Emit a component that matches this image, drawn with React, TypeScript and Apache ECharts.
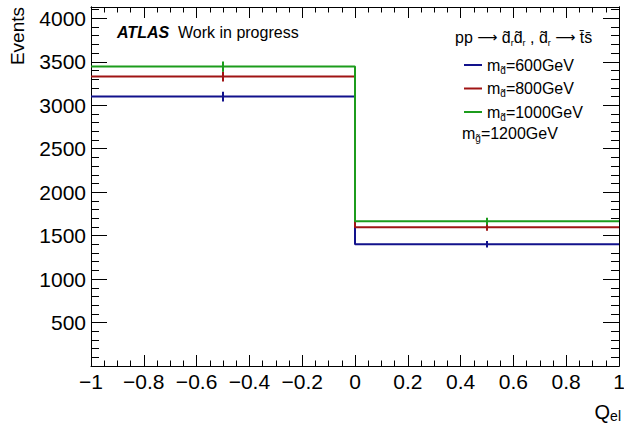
import React, { useEffect, useRef } from "react";
import * as echarts from "echarts";

// ---- data ----
const binEdges = [-1, 0, 1];
const massLabels = ["600", "800", "1000"];
const blueCounts = [3100, 1400];
const redCounts = [3330, 1595];
const greenCounts = [3445, 1665];
const blueErrors = [56, 37];
const redErrors = [58, 40];
const greenErrors = [59, 41];
const seriesColors = ["#12128c", "#a01414", "#1c9c1c"];
const yMin = 0;
const yMax = 4130;
const xMin = -1;
const xMax = 1;

const FONT = "Liberation Sans";

function stepPoints(counts: number[]) {
  return binEdges.map((e, i) => [e, counts[Math.min(i, counts.length - 1)]]);
}
function errPoints(counts: number[], errs: number[]) {
  return counts.map((c, i) => [(binEdges[i] + binEdges[i + 1]) / 2, c, errs[i]]);
}

export default function App() {
  const ref = useRef<HTMLDivElement>(null);
  useEffect(() => {
    if (!ref.current) return;
    const chart = echarts.init(ref.current, undefined, { renderer: "svg" });
    const allCounts = [blueCounts, redCounts, greenCounts];
    const allErrs = [blueErrors, redErrors, greenErrors];

    const lineSeries = massLabels.map((m, k) => ({
      name: m,
      type: "line",
      step: "end",
      data: stepPoints(allCounts[k]),
      symbol: "none",
      lineStyle: { color: seriesColors[k], width: 2 },
      itemStyle: { color: seriesColors[k] },
      xAxisIndex: 0,
      yAxisIndex: 0,
      z: 2 + k,
    }));
    const errSeries = massLabels.map((m, k) => ({
      name: m + " err",
      type: "custom",
      xAxisIndex: 0,
      yAxisIndex: 0,
      z: 2 + k,
      data: errPoints(allCounts[k], allErrs[k]),
      renderItem: (params: any, api: any) => {
        const x = api.value(0);
        const y = api.value(1);
        const e = api.value(2);
        const p1 = api.coord([x, y - e]);
        const p2 = api.coord([x, y + e]);
        return {
          type: "line",
          shape: { x1: p1[0], y1: p1[1], x2: p2[0], y2: p2[1] },
          style: { stroke: seriesColors[k], lineWidth: 2 },
        };
      },
    }));

    const axisLine = { show: true, onZero: false, lineStyle: { color: "#000", width: 1 } };
    const xFmt = (v: number) => {
      const r = Math.round(v * 10) / 10;
      return String(r).replace("-", "\u2212");
    };
    const xBase = (pos: string, labels: boolean) => ({
      type: "value",
      position: pos,
      min: xMin,
      max: xMax,
      interval: 0.2,
      axisLine,
      axisTick: { show: true, inside: true, length: 11, lineStyle: { color: "#000" } },
      minorTick: { show: true, splitNumber: 4, length: 5.5, lineStyle: { color: "#000" } },
      splitLine: { show: false },
      minorSplitLine: { show: false },
      axisLabel: {
        show: labels,
        formatter: xFmt,
        fontFamily: FONT,
        fontSize: 21,
        color: "#000",
        margin: 5,
      },
    });
    const yBase = (pos: string, interval: number, tickLen: number, labels: boolean) => ({
      type: "value",
      position: pos,
      min: yMin,
      max: yMax,
      interval,
      axisLine,
      axisTick: { show: true, inside: true, length: tickLen, lineStyle: { color: "#000" } },
      splitLine: { show: false },
      axisLabel: {
        show: labels,
        formatter: (v: number) => (v === 0 || v % 500 !== 0 ? "" : String(v)),
        fontFamily: FONT,
        fontSize: 21,
        color: "#000",
        margin: 5,
      },
    });

    chart.setOption({
      animation: false,
      backgroundColor: "#fff",
      grid: {
        left: 91,
        right: 5,
        top: 7,
        bottom: 59,
        containLabel: false,
        outerBoundsMode: "none",
      },
      xAxis: [xBase("bottom", true), xBase("top", false)],
      yAxis: [
        yBase("left", 500, 16, true),
        yBase("left", 100, 8, false),
        yBase("right", 500, 16, false),
        yBase("right", 100, 8, false),
      ],
      legend: {
        data: massLabels,
        orient: "vertical",
        left: 459,
        top: 52,
        itemWidth: 18,
        itemHeight: 2,
        itemGap: 5.5,
        icon: "rect",
        formatter: (name: string) => `{m|m}{s|d\u0303}{t|=${name}GeV}`,
        textStyle: {
          fontFamily: FONT,
          color: "#000",
          rich: {
            m: { fontFamily: FONT, fontSize: 16, lineHeight: 20, verticalAlign: "middle", color: "#000" },
            s: { fontFamily: FONT, fontSize: 10, lineHeight: 9, verticalAlign: "bottom", color: "#000" },
            t: { fontFamily: FONT, fontSize: 16, lineHeight: 20, verticalAlign: "middle", color: "#000" },
          },
        },
      },
      graphic: [
        {
          type: "text",
          x: 17,
          y: 7,
          rotation: Math.PI / 2,
          style: {
            text: "Events",
            fontFamily: FONT,
            fontSize: 19,
            fill: "#000",
            align: "right",
            verticalAlign: "middle",
          },
        },
        {
          type: "text",
          x: 621,
          y: 401,
          style: {
            text: "{q|Q}{s|el}",
            align: "right",
            verticalAlign: "top",
            rich: {
              q: { fontFamily: FONT, fontSize: 20, lineHeight: 22, verticalAlign: "middle", fill: "#000" },
              s: { fontFamily: FONT, fontSize: 14, lineHeight: 14, verticalAlign: "bottom", fill: "#000" },
            },
          },
        },
        {
          type: "text",
          x: 117,
          y: 32,
          style: {
            text: "ATLAS",
            fontFamily: FONT,
            fontSize: 16,
            fontWeight: "bold",
            fontStyle: "italic",
            fill: "#000",
            verticalAlign: "middle",
          },
        },
        {
          type: "text",
          x: 178,
          y: 32,
          style: {
            text: "Work in progress",
            fontFamily: FONT,
            fontSize: 16,
            fill: "#000",
            verticalAlign: "middle",
          },
        },
        {
          type: "text",
          x: 455,
          y: 27,
          style: {
            text: "{n|pp }{a|\u27F6}{n| d\u0303}{s|r}{n|d\u0303}{s|r}{n| , d\u0303}{s|r}{n| }{a|\u27F6}{n| t\u0304s\u0304}",
            verticalAlign: "top",
            rich: {
              n: { fontFamily: FONT, fontSize: 16, lineHeight: 20, verticalAlign: "middle", fill: "#000" },
              a: { fontFamily: "DejaVu Sans", fontSize: 14, lineHeight: 20, verticalAlign: "middle", fill: "#000" },
              s: { fontFamily: FONT, fontSize: 9, lineHeight: 8, verticalAlign: "bottom", fill: "#000" },
            },
          },
        },
        {
          type: "text",
          x: 462,
          y: 123,
          style: {
            text: "{m|m}{s|g\u0303}{t|=1200GeV}",
            verticalAlign: "top",
            rich: {
              m: { fontFamily: FONT, fontSize: 16, lineHeight: 20, verticalAlign: "middle", fill: "#000" },
              s: { fontFamily: FONT, fontSize: 10, lineHeight: 9, verticalAlign: "bottom", fill: "#000" },
              t: { fontFamily: FONT, fontSize: 16, lineHeight: 20, verticalAlign: "middle", fill: "#000" },
            },
          },
        },
      ],
      series: [...errSeries, ...lineSeries],
    });
    return () => chart.dispose();
  }, []);
  return (
    <div
      ref={ref}
      style={{ position: "fixed", left: 0, top: 0, width: 624, height: 425, background: "#fff" }}
    />
  );
}
